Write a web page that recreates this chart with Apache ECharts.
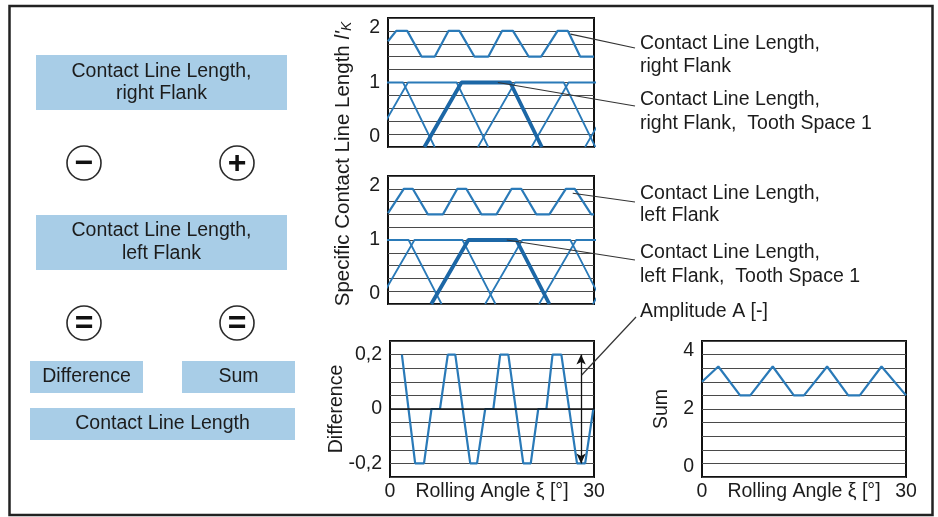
<!DOCTYPE html>
<html><head><meta charset="utf-8">
<script src="https://cdn.jsdelivr.net/npm/echarts@6/dist/echarts.min.js"></script>
<style>html,body{margin:0;padding:0;background:#fff}#c{width:938px;height:517px}</style>
</head><body><div id="c"></div>
<script>
// ---------- data ----------
const angleTickLabels = [0, 30];
const clTickLabels = [0, 1, 2];
const diffTickLabels = [-0.2, 0, 0.2];
const sumTickLabels = [0, 2, 4];

// Contact line length, right flank (total)
const rightFlankX = [0, 1.2, 2.8, 4.9, 6.8, 8.8, 10.4, 12.6, 14.6, 16.6, 18.2, 20.5, 22.3, 24.7, 26.2, 28.0, 30];
const rightFlankY = [1.64, 1.8, 1.8, 1.4, 1.4, 1.8, 1.8, 1.4, 1.4, 1.8, 1.8, 1.4, 1.4, 1.8, 1.8, 1.4, 1.4];
// single tooth spaces, right flank: [start, reach 1, leave 1, end]
const toothShapeY = [0, 1, 1, 0];
const rightTeethX = [
  [-10.3, -4.9, 2.2, 6.8],
  [-2.5, 2.9, 10.0, 14.6],
  [5.3, 10.7, 17.8, 22.4],   // tooth space 1
  [13.1, 18.5, 25.6, 30.2],
  [20.9, 26.3, 33.4, 38.0],
  [28.7, 34.1, 41.2, 45.8]
];
const rightBold = 2;

// Contact line length, left flank (total)
const leftFlankX = [0, 2.3, 3.6, 5.8, 8.0, 10.1, 11.4, 13.6, 15.8, 18.0, 19.4, 21.6, 23.5, 25.9, 27.2, 29.6, 30];
const leftFlankY = [1.42, 1.8, 1.8, 1.4, 1.4, 1.8, 1.8, 1.4, 1.4, 1.8, 1.8, 1.4, 1.4, 1.8, 1.8, 1.4, 1.4];
const leftTeethX = [
  [-9.4, -4.0, 3.0, 7.8],
  [-1.55, 3.85, 10.85, 15.65],
  [6.3, 11.7, 18.7, 23.5],   // tooth space 1
  [14.15, 19.55, 26.55, 31.35],
  [22.0, 27.4, 34.4, 39.2],
  [29.85, 35.25, 42.25, 47.05]
];
const leftBold = 2;

// Difference
const diffX = [1.75, 3.7, 5.0, 6.1, 7.35, 8.5, 9.6, 11.8, 12.8, 14.0, 15.2, 16.2, 17.4, 19.6, 20.7, 21.8, 23.0, 23.9, 25.2, 27.5, 28.7, 29.9];
const diffY = [0.2, -0.2, -0.2, 0, 0, 0.2, 0.2, -0.2, -0.2, 0, 0, 0.2, 0.2, -0.2, -0.2, 0, 0, 0.2, 0.2, -0.2, -0.2, 0];
const amplitudeX = 28.1;
const amplitudeRange = [0.2, -0.2];

// Sum
const sumX = [0, 2.4, 5.6, 7.1, 10.4, 13.5, 15.0, 18.4, 21.5, 23.2, 26.4, 30];
const sumY = [2.8, 3.25, 2.4, 2.4, 3.25, 2.4, 2.4, 3.25, 2.4, 2.4, 3.25, 2.4];

// annotations: text lines, anchor [grid, x, y]
const annotations = [
  { lines: ['Contact Line Length,', 'right Flank'], ys: [44, 67], anchor: [0, 26.6, 1.75], end: [635, 48] },
  { lines: ['Contact Line Length,', 'right Flank,  Tooth Space 1'], ys: [100, 124], anchor: [0, 16.0, 1.0], end: [635, 106] },
  { lines: ['Contact Line Length,', 'left Flank'], ys: [194, 216], anchor: [1, 26.9, 1.73], end: [635, 202] },
  { lines: ['Contact Line Length,', 'left Flank,  Tooth Space 1'], ys: [253, 277], anchor: [1, 17.3, 1.0], end: [635, 260] },
  { lines: ['Amplitude A [-]'], ys: [312], anchor: [2, 28.2, 0.125], end: [636, 317] }
];

// ---------- chart ----------
const FONT = '"Liberation Sans", Arial, Helvetica, sans-serif';
const FS = 19.5;
const BLUE = '#2a7ab8', BLUE_BOLD = '#1c67a6', BOXBLUE = '#a8cde7', INK = '#1c1c1c';
const chart = echarts.init(document.getElementById('c'), null, { renderer: 'canvas' });

function fmtComma(v) { return String(v).replace('.', ','); }
function yAxisCfg(gi, min, max, interval, labels, extra) {
  return Object.assign({
    type: 'value', gridIndex: gi, min: min, max: max, interval: interval,
    axisLine: { show: false }, axisTick: { show: false },
    splitLine: { show: true, lineStyle: { color: '#4a4a4a', width: 1 } },
    axisLabel: {
      fontSize: FS, color: INK, fontFamily: FONT, margin: 8,
      verticalAlignMaxLabel: 'top', verticalAlignMinLabel: 'bottom',
      formatter: function (v) {
        const m = labels.find(l => Math.abs(l - v) < 1e-6);
        return m === undefined ? '' : fmtComma(m);
      }
    }
  }, extra || {});
}
function xAxisHidden(gi) {
  return { type: 'value', gridIndex: gi, min: 0, max: 30, show: false };
}
function xAxisShown(gi) {
  return {
    type: 'value', gridIndex: gi, min: 0, max: 30, interval: 30,
    axisLine: { show: false }, axisTick: { show: false }, splitLine: { show: false },
    axisLabel: { fontSize: FS, color: INK, fontFamily: FONT, margin: 5,
      formatter: v => (angleTickLabels.indexOf(v) >= 0 ? String(v) : '') },
    name: 'Rolling Angle ξ [°]', nameLocation: 'middle', nameGap: 5, nameMoveOverlap: false,
    nameTextStyle: { fontSize: FS, color: INK, fontFamily: FONT }
  };
}
function curve(xs, ys, gi, width) {
  return { type: 'line', xAxisIndex: gi, yAxisIndex: gi, data: xs.map((x, i) => [x, ys[i]]),
    symbol: 'none', silent: true, clip: true, lineStyle: { color: BLUE, width: width || 2.2 }, z: 3 };
}
function tooth(xs, gi, bold) {
  return { type: 'line', xAxisIndex: gi, yAxisIndex: gi, data: xs.map((x, i) => [x, toothShapeY[i]]),
    symbol: 'none', silent: true, clip: true,
    lineStyle: { color: bold ? BLUE_BOLD : BLUE, width: bold ? 3.8 : 1.8 }, z: bold ? 4 : 3 };
}

const gridBase = { show: true, borderColor: '#111', borderWidth: 2, backgroundColor: 'transparent' };
const grids = [
  Object.assign({ left: 388, top: 18, width: 206, height: 129 }, gridBase),
  Object.assign({ left: 388, top: 176, width: 206, height: 128 }, gridBase),
  Object.assign({ left: 390, top: 341, width: 204, height: 136 }, gridBase),
  Object.assign({ left: 702, top: 341, width: 204, height: 136 }, gridBase)
];

const series = [];
series.push(curve(rightFlankX, rightFlankY, 0));
rightTeethX.forEach((t, i) => series.push(tooth(t, 0, i === rightBold)));
series.push(curve(leftFlankX, leftFlankY, 1));
leftTeethX.forEach((t, i) => series.push(tooth(t, 1, i === leftBold)));
const diffSeries = curve(diffX, diffY, 2);
diffSeries.markLine = {
  silent: true, animation: false, symbol: ['none', 'none'], label: { show: false },
  data: [
    { yAxis: 0, lineStyle: { color: '#111', width: 1.6, type: 'solid' } },
    [ { coord: [amplitudeX, amplitudeRange[0]], symbol: 'arrow', symbolSize: [7, 10] },
      { coord: [amplitudeX, amplitudeRange[1]], symbol: 'arrow', symbolSize: [7, 10],
        lineStyle: { color: '#111', width: 1.3, type: 'solid' } } ]
  ],
  lineStyle: { color: '#111', width: 1.3, type: 'solid' }
};
series.push(diffSeries);
series.push(curve(sumX, sumY, 3));

// ---------- static graphics ----------
function txt(x, y, s, opts) {
  return Object.assign({ type: 'text', x: x, y: y, silent: true, z: 10,
    style: Object.assign({ text: s, fill: INK, fontSize: FS, fontFamily: FONT, align: 'center', verticalAlign: 'middle' }, (opts && opts.style) || {}) },
    (opts && opts.el) || {});
}
function box(x, y, w, h) {
  return { type: 'rect', silent: true, z: 5, shape: { x: x, y: y, width: w, height: h }, style: { fill: BOXBLUE } };
}
function circ(cx, cy, sym) {
  return [
    { type: 'circle', silent: true, z: 5, shape: { cx: cx, cy: cy, r: 17 }, style: { fill: '#fff', stroke: '#2a2a2a', lineWidth: 1.6 } },
    txt(cx, cy + 1, sym, { style: { fontSize: 32, fontWeight: 'bold', fill: '#111' } })
  ];
}
const staticG = [
  { type: 'rect', silent: true, z: 1, shape: { x: 9.5, y: 6, width: 923, height: 509 }, style: { fill: 'none', stroke: '#222', lineWidth: 2.5 } },
  box(36, 55, 251, 55), txt(161.5, 72, 'Contact Line Length,'), txt(161.5, 94, 'right Flank'),
  ...circ(84, 163, '−'), ...circ(237, 163, '+'),
  box(36, 215, 251, 55), txt(161.5, 231, 'Contact Line Length,'), txt(161.5, 254, 'left Flank'),
  ...circ(84, 323, '='), ...circ(237, 323, '='),
  box(30, 361, 113, 32), txt(86.5, 377, 'Difference'),
  box(182, 361, 113, 32), txt(238.5, 377, 'Sum'),
  box(30, 408, 265, 32), txt(162.5, 424, 'Contact Line Length'),
  { type: 'text', x: 343, y: 164, rotation: Math.PI / 2, silent: true, z: 10,
    style: { text: "Specific Contact Line Length {i|l'}{sub|K}", fill: INK, fontSize: 20.5, fontFamily: FONT,
      align: 'center', verticalAlign: 'middle',
      rich: { i: { fontSize: 20.5, fontStyle: 'italic', fontFamily: FONT, fill: INK },
              sub: { fontSize: 14, fontStyle: 'italic', fontFamily: FONT, fill: INK, verticalAlign: 'bottom', padding: [8, 0, 0, 0] } } } }
];
annotations.forEach(a => a.lines.forEach((l, i) => staticG.push(txt(640, a.ys[i], l, { style: { align: 'left' } }))));

const option = {
  animation: false,
  backgroundColor: '#fff',
  grid: grids,
  xAxis: [xAxisHidden(0), xAxisHidden(1), xAxisShown(2), xAxisShown(3)],
  yAxis: [
    yAxisCfg(0, 0, 2, 0.2, clTickLabels),
    yAxisCfg(1, 0, 2, 0.2, clTickLabels),
    yAxisCfg(2, -0.25, 0.25, 0.05, diffTickLabels, { name: 'Difference', nameLocation: 'middle', nameRotate: 90, nameGap: 43, nameMoveOverlap: false,
      nameTextStyle: { fontSize: FS, color: INK, fontFamily: FONT } }),
    yAxisCfg(3, 0, 4, 0.4, sumTickLabels, { name: 'Sum', nameLocation: 'middle', nameRotate: 90, nameGap: 30, nameMoveOverlap: false,
      nameTextStyle: { fontSize: FS, color: INK, fontFamily: FONT } })
  ],
  series: series,
  graphic: staticG
};
chart.setOption(option);

// leader lines anchored to data points
const leaders = annotations.map(a => {
  const p = chart.convertToPixel({ gridIndex: a.anchor[0] }, [a.anchor[1], a.anchor[2]]);
  return { type: 'line', silent: true, z: 9, shape: { x1: p[0], y1: p[1], x2: a.end[0], y2: a.end[1] },
    style: { stroke: '#333', lineWidth: 1.2 } };
});
chart.setOption({ graphic: staticG.concat(leaders) });
</script></body></html>
